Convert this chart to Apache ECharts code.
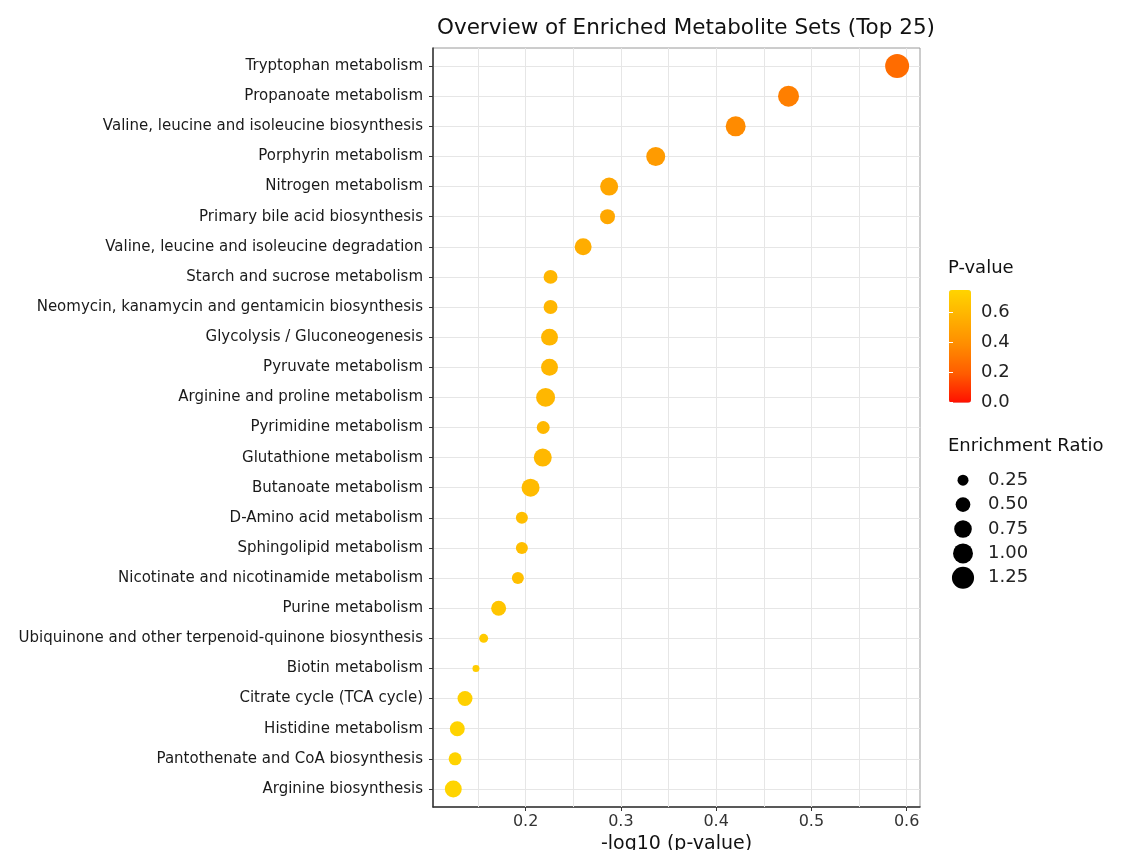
<!DOCTYPE html>
<html>
<head>
<meta charset="utf-8">
<script src="https://cdn.jsdelivr.net/npm/echarts@6/dist/echarts.min.js"></script>
<style>
html,body{margin:0;padding:0;background:#fff;}
#chart{width:1121px;height:850px;}
</style>
</head>
<body>
<div id="chart"></div>
<script>
// ---- data ----
const categories = [
  "Tryptophan metabolism",
  "Propanoate metabolism",
  "Valine, leucine and isoleucine biosynthesis",
  "Porphyrin metabolism",
  "Nitrogen metabolism",
  "Primary bile acid biosynthesis",
  "Valine, leucine and isoleucine degradation",
  "Starch and sucrose metabolism",
  "Neomycin, kanamycin and gentamicin biosynthesis",
  "Glycolysis / Gluconeogenesis",
  "Pyruvate metabolism",
  "Arginine and proline metabolism",
  "Pyrimidine metabolism",
  "Glutathione metabolism",
  "Butanoate metabolism",
  "D-Amino acid metabolism",
  "Sphingolipid metabolism",
  "Nicotinate and nicotinamide metabolism",
  "Purine metabolism",
  "Ubiquinone and other terpenoid-quinone biosynthesis",
  "Biotin metabolism",
  "Citrate cycle (TCA cycle)",
  "Histidine metabolism",
  "Pantothenate and CoA biosynthesis",
  "Arginine biosynthesis"
];
const negLog10P = [0.590, 0.476, 0.4205, 0.3366, 0.2877, 0.286, 0.2604, 0.2262, 0.2262, 0.2251,
                   0.2251, 0.221, 0.2185, 0.218, 0.2052, 0.1961, 0.1961, 0.1919, 0.1717, 0.156,
                   0.1479, 0.1364, 0.1283, 0.126, 0.1241];
const pValues = [0.257, 0.334, 0.380, 0.461, 0.516, 0.518, 0.549, 0.594, 0.594, 0.596,
                 0.596, 0.601, 0.605, 0.605, 0.623, 0.637, 0.637, 0.643, 0.674, 0.698,
                 0.711, 0.731, 0.744, 0.748, 0.751];
const enrichmentRatio = [1.49, 1.11, 1.00, 0.89, 0.79, 0.52, 0.69, 0.44, 0.44, 0.69,
                         0.69, 0.89, 0.37, 0.79, 0.79, 0.31, 0.31, 0.31, 0.52, 0.15,
                         0.077, 0.52, 0.52, 0.37, 0.69];
const xTickLabels = [0.2, 0.3, 0.4, 0.5, 0.6];
const xGridValues = [0.15, 0.2, 0.25, 0.3, 0.35, 0.4, 0.45, 0.5, 0.55, 0.6];
const pLegendTicks = [0, 0.2, 0.4, 0.6];
const sizeBreaks = [0.25, 0.50, 0.75, 1.00, 1.25];
const sizeBreakLabels = ["0.25", "0.50", "0.75", "1.00", "1.25"];

// ---- helpers ----
const FONT = 'DejaVu Sans';
function sizeOf(er) { return 2 + 18 * Math.sqrt(er); }
const catIdx = categories.map((_, i) => i);
const pMax = Math.max.apply(null, pValues);

const mainData = categories.map((c, i) => [negLog10P[i], i, enrichmentRatio[i], pValues[i]]);

const chart = echarts.init(document.getElementById('chart'), null, {renderer: 'canvas'});
chart.setOption({
  backgroundColor: '#ffffff',
  animation: false,
  textStyle: {fontFamily: FONT},
  title: {
    text: 'Overview of Enriched Metabolite Sets (Top 25)',
    left: 681, top: 12, textAlign: 'center',
    textStyle: {fontFamily: FONT, fontSize: 21.5, fontWeight: 'normal', color: '#111'}
  },
  grid: [
    {left: 433, right: 201, top: 48, bottom: 43, show: true, borderColor: '#9a9a9a', borderWidth: 1,
     outerBoundsMode: 'none', containLabel: false},
    {left: 949, width: 22, top: 290, height: 112.7, outerBoundsMode: 'none', containLabel: false},
    {left: 951, width: 24, top: 468, height: 122, outerBoundsMode: 'none', containLabel: false}
  ],
  xAxis: [
    {
      type: 'value', gridIndex: 0, min: 0.1028, max: 0.614,
      name: '-log10 (p-value)', nameLocation: 'middle', nameGap: 27,
      nameTextStyle: {fontFamily: FONT, fontSize: 19, color: '#111'},
      axisLine: {show: true, onZero: false, lineStyle: {color: '#333', width: 1.5}},
      axisTick: {show: true, customValues: xTickLabels, length: 4, lineStyle: {color: '#333'}},
      axisLabel: {customValues: xTickLabels, fontFamily: FONT, fontSize: 16, color: '#333', margin: 7,
                  formatter: v => String(Math.round(v * 10) / 10)},
      splitLine: {show: false}
    },
    {type: 'value', gridIndex: 1, min: 0, max: 1, show: false},
    {type: 'category', gridIndex: 2, data: ['k'], show: false}
  ],
  yAxis: [
    {
      type: 'value', gridIndex: 0, min: -0.6, max: 24.6, inverse: true,
      axisLine: {show: true, onZero: false, lineStyle: {color: '#333', width: 1.5}},
      axisTick: {show: true, customValues: catIdx, length: 4, lineStyle: {color: '#333'}},
      axisLabel: {customValues: catIdx, fontFamily: FONT, fontSize: 15, color: '#1a1a1a', margin: 10,
                  formatter: v => categories[Math.round(v)] || ''},
      splitLine: {show: true, lineStyle: {color: '#e6e6e6', width: 1}}
    },
    {
      type: 'value', gridIndex: 1, min: 0, max: pMax, position: 'right', z: 10,
      axisLine: {show: false},
      axisTick: {show: true, inside: true, length: 4, customValues: pLegendTicks, lineStyle: {color: '#ffffff', width: 1}},
      axisLabel: {customValues: pLegendTicks, fontFamily: FONT, fontSize: 18, color: '#222', margin: 10,
                  formatter: v => v.toFixed(1)},
      splitLine: {show: false}
    },
    {
      type: 'value', gridIndex: 1, min: 0, max: pMax, position: 'left', z: 10,
      axisLine: {show: false},
      axisTick: {show: true, inside: true, length: 4, customValues: pLegendTicks, lineStyle: {color: '#ffffff', width: 1}},
      axisLabel: {show: false}, splitLine: {show: false}
    },
    {
      type: 'category', gridIndex: 2, data: sizeBreakLabels, inverse: true, position: 'right',
      axisLine: {show: false}, axisTick: {show: false},
      axisLabel: {fontFamily: FONT, fontSize: 18, color: '#222', margin: 13}
    }
  ],
  visualMap: {
    type: 'continuous', seriesIndex: 1, dimension: 3, min: 0, max: pMax, z: 1,
    left: 949, top: 290, itemWidth: 22, itemHeight: 112.7, padding: 0,
    calculable: false, realtime: false, text: null, showLabel: false, hoverLink: false,
    inRange: {color: ['#ff1000', '#ff5a00', '#ff8a00', '#ffb000', '#ffd400']}
  },
  graphic: [
    {type: 'text', left: 948, top: 259, style: {text: 'P-value', fontFamily: FONT, fontSize: 18, fill: '#111'}},
    {type: 'text', left: 948, top: 437, style: {text: 'Enrichment Ratio', fontFamily: FONT, fontSize: 18, fill: '#111'}}
  ],
  series: [
    {
      // vertical grid lines (behind points)
      type: 'scatter', xAxisIndex: 0, yAxisIndex: 0, data: [], z: 1, silent: true,
      markLine: {
        silent: true, symbol: 'none', animation: false,
        label: {show: false},
        lineStyle: {color: '#e6e6e6', width: 1, type: 'solid'},
        data: xGridValues.map(v => ({xAxis: v}))
      }
    },
    {
      type: 'scatter', xAxisIndex: 0, yAxisIndex: 0, data: mainData,
      symbolSize: d => sizeOf(d[2]),
      itemStyle: {opacity: 1},
      z: 5
    },
    {
      type: 'scatter', xAxisIndex: 2, yAxisIndex: 3,
      data: sizeBreaks.map((v, i) => ['k', i, v]),
      symbolSize: d => sizeOf(d[2]),
      itemStyle: {color: '#000000', opacity: 1}
    }
  ]
});
</script>
</body>
</html>
